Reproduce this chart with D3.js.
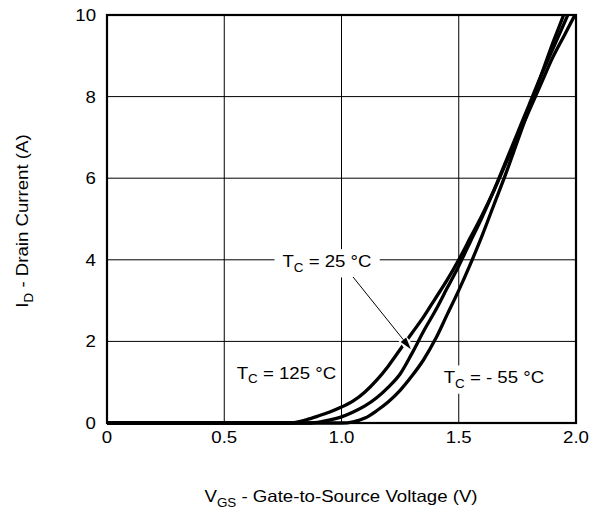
<!DOCTYPE html>
<html lang="en">
<head>
  <meta charset="UTF-8" />
  <title>Transfer Characteristics</title>
  <script src="https://cdn.jsdelivr.net/npm/d3@7"></script>
  <style>
    body { margin: 0; background: #fff; }
    svg { display: block; }
    text { font-family: "Liberation Sans", Arial, sans-serif; fill: #000; }
  </style>
</head>
<body>
  <div id="chart"></div>
  <script>
    const xTicks = [0, 0.5, 1.0, 1.5, 2.0];
    const xTickLabels = ["0", "0.5", "1.0", "1.5", "2.0"];
    const yTicks = [0, 2, 4, 6, 8, 10];
    const yTickLabels = ["0", "2", "4", "6", "8", "10"];

    // Tc = 125 °C
    const vgs125 = [0, 0.78, 0.85, 0.9, 0.95, 1.0, 1.05, 1.1, 1.15, 1.2, 1.25, 1.3, 1.35, 1.4, 1.45, 1.5, 1.55, 1.6, 1.65, 1.7, 1.75, 1.8, 1.85, 1.9, 1.95, 2.0];
    const id125  = [0, 0, 0.08, 0.17, 0.27, 0.39, 0.54, 0.76, 1.05, 1.4, 1.8, 2.2, 2.6, 3.05, 3.5, 4.0, 4.55, 5.1, 5.7, 6.35, 7.0, 7.65, 8.3, 8.95, 9.5, 10.05];
    // Tc = 25 °C
    const vgs25 = [0, 0.86, 0.92, 0.97, 1.0, 1.05, 1.1, 1.15, 1.2, 1.25, 1.3, 1.35, 1.4, 1.45, 1.5, 1.55, 1.6, 1.65, 1.7, 1.75, 1.8, 1.85, 1.9, 1.95, 1.98];
    const id25  = [0, 0, 0.04, 0.1, 0.15, 0.27, 0.42, 0.62, 0.88, 1.2, 1.7, 2.25, 2.75, 3.3, 3.85, 4.45, 5.05, 5.7, 6.4, 7.1, 7.8, 8.5, 9.15, 9.8, 10.2];
    // Tc = -55 °C
    const vgs55 = [0, 1.0, 1.05, 1.1, 1.15, 1.2, 1.25, 1.3, 1.35, 1.4, 1.45, 1.5, 1.55, 1.6, 1.65, 1.7, 1.75, 1.8, 1.85, 1.9, 1.95, 1.97];
    const id55  = [0, 0, 0.03, 0.12, 0.3, 0.52, 0.8, 1.15, 1.55, 2.05, 2.65, 3.25, 3.9, 4.6, 5.35, 6.1, 6.9, 7.7, 8.5, 9.3, 10.05, 10.4];

    const curves = [
      { v: vgs125, i: id125 },
      { v: vgs25, i: id25 },
      { v: vgs55, i: id55 }
    ];

    const W = 598, H = 510;
    const pL = 107, pT = 15, pR = 576, pB = 423;
    const FS = 16.5, SX = 1.13;

    const svg = d3.select("#chart").append("svg")
      .attr("width", W).attr("height", H);

    const x = d3.scaleLinear().domain([0, 2]).range([pL, pR]);
    const y = d3.scaleLinear().domain([0, 10]).range([pB, pT]);

    // text with optional subscripts, stretched a little horizontally
    function label(px, py, parts, opts = {}) {
      const g = svg.append("g")
        .attr("transform", `translate(${px},${py}) rotate(${opts.rot || 0}) scale(${SX},1)`);
      const t = g.append("text")
        .attr("text-anchor", opts.anchor || "middle")
        .attr("font-size", FS)
        .attr("dy", opts.dy || 0);
      let down = false;
      parts.forEach(p => {
        const ts = t.append("tspan").text(p.t);
        if (p.sub) {
          ts.attr("font-size", FS * 0.72).attr("dy", 4.5);
          down = true;
        } else if (down) {
          ts.attr("dy", -4.5);
          down = false;
        }
      });
      if (opts.box) {
        const b = t.node().getBBox();
        g.insert("rect", "text")
          .attr("x", b.x - opts.box[0]).attr("y", b.y - opts.box[1])
          .attr("width", b.width + 2 * opts.box[0]).attr("height", b.height + 2 * opts.box[1])
          .attr("fill", "#fff");
      }
      return g;
    }

    // grid
    svg.append("g").selectAll("line")
      .data(xTicks.slice(1, -1)).join("line")
      .attr("x1", d => x(d)).attr("x2", d => x(d))
      .attr("y1", y(0)).attr("y2", y(10))
      .attr("stroke", "#000").attr("stroke-width", 1);
    svg.append("g").selectAll("line")
      .data(yTicks.slice(1, -1)).join("line")
      .attr("x1", x(0)).attr("x2", x(2))
      .attr("y1", d => y(d)).attr("y2", d => y(d))
      .attr("stroke", "#000").attr("stroke-width", 1);

    // tick labels
    xTicks.forEach((d, k) => label(x(d), pB + 20, [{ t: xTickLabels[k] }]));
    yTicks.forEach((d, k) => label(x(0) - 11, y(d), [{ t: yTickLabels[k] }], { anchor: "end", dy: "0.36em" }));

    // axis titles
    label(341, 502, [{ t: "V" }, { t: "GS", sub: true }, { t: " - Gate-to-Source Voltage (V)" }]);
    label(28, 221, [{ t: "I" }, { t: "D", sub: true }, { t: " - Drain Current (A)" }], { rot: -90 });

    // annotation labels with white boxes hiding the grid
    label(x(0.938), y(3.82), [{ t: "T" }, { t: "C", sub: true }, { t: " = 25 °C" }], { box: [7, 3] });
    label(x(0.765), y(1.08), [{ t: "T" }, { t: "C", sub: true }, { t: " = 125 °C" }], { box: [4, 3] });
    label(x(1.65), y(0.97), [{ t: "T" }, { t: "C", sub: true }, { t: " = - 55 °C" }], { box: [4, 3] });

    // curves
    svg.append("clipPath").attr("id", "plot")
      .append("rect").attr("x", pL).attr("y", pT - 1)
      .attr("width", pR - pL).attr("height", pB - pT + 3);

    const line = d3.line()
      .x(d => x(d[0])).y(d => y(d[1]))
      .curve(d3.curveMonotoneX);

    svg.append("g").attr("clip-path", "url(#plot)")
      .selectAll("path")
      .data(curves).join("path")
      .attr("d", c => line(c.v.map((v, k) => [v, c.i[k]])))
      .attr("fill", "none")
      .attr("stroke", "#000")
      .attr("stroke-width", 3.3)
      .attr("stroke-linejoin", "round");

    // frame
    svg.append("rect")
      .attr("x", pL).attr("y", pT)
      .attr("width", pR - pL).attr("height", pB - pT)
      .attr("fill", "none").attr("stroke", "#000").attr("stroke-width", 2.2);

    // arrow from the 25 °C label to its curve
    const a0 = [x(1.049), y(3.58)], a1 = [x(1.296), y(1.81)];
    const dx = a1[0] - a0[0], dy = a1[1] - a0[1];
    const len = Math.hypot(dx, dy), ux = dx / len, uy = dy / len;
    const at = t => [a0[0] + dx * t, a0[1] + dy * t];
    const h0 = at(0.8), h1 = at(0.97);
    svg.append("line")
      .attr("x1", h0[0]).attr("y1", h0[1]).attr("x2", h1[0]).attr("y2", h1[1])
      .attr("stroke", "#fff").attr("stroke-width", 9);
    const hl = 12, hw = 3.5;
    const base = [a1[0] - ux * hl, a1[1] - uy * hl];
    svg.append("line")
      .attr("x1", a0[0]).attr("y1", a0[1]).attr("x2", base[0]).attr("y2", base[1])
      .attr("stroke", "#000").attr("stroke-width", 1);
    svg.append("path")
      .attr("d", d3.line()([
        a1,
        [base[0] - uy * hw, base[1] + ux * hw],
        [base[0] + uy * hw, base[1] - ux * hw]
      ]) + "Z")
      .attr("fill", "#000");
  </script>
</body>
</html>
